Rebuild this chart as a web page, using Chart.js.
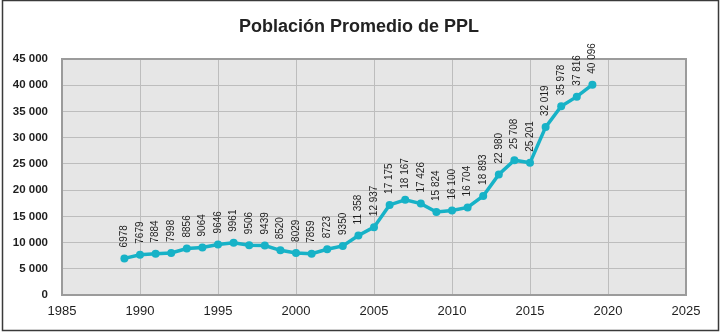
<!DOCTYPE html>
<html>
<head>
<meta charset="utf-8">
<script src="https://cdn.jsdelivr.net/npm/chart.js@4/dist/chart.umd.min.js"></script>
<style>
  html, body { margin: 0; padding: 0; background: #fff; }
  #wrap { position: relative; width: 724px; height: 334px; }
</style>
</head>
<body>
<div id="wrap"><canvas id="ppl" width="724" height="334"></canvas></div>
<script>
// años y población promedio
var years = [1989, 1990, 1991, 1992, 1993, 1994, 1995, 1996, 1997, 1998, 1999,
             2000, 2001, 2002, 2003, 2004, 2005, 2006, 2007, 2008, 2009,
             2010, 2011, 2012, 2013, 2014, 2015, 2016, 2017, 2018, 2019];
var poblacion = [6978, 7679, 7884, 7998, 8856, 9064, 9646, 9961, 9506, 9439, 8520,
                 8029, 7859, 8723, 9350, 11358, 12937, 17175, 18167, 17426, 15824,
                 16100, 16704, 18893, 22980, 25708, 25201, 32019, 35978, 37816, 40096];
var xTicks = [1985, 1990, 1995, 2000, 2005, 2010, 2015, 2020, 2025];
var yTicks = [0, 5000, 10000, 15000, 20000, 25000, 30000, 35000, 40000, 45000];
var titulo = "Población Promedio de PPL";

function miles(v, always) {
  var s = String(v);
  if (!always && v < 10000) return s;
  return s.replace(/\B(?=(\d{3})+(?!\d))/g, " ");
}

// fondo gris del área de trazado, marco exterior y título
var marco = {
  id: "marco",
  beforeDraw: function(chart) {
    var c = chart.ctx, a = chart.chartArea;
    c.save();
    c.fillStyle = "#fff";
    c.fillRect(0, 0, chart.width, chart.height);
    c.strokeStyle = "#3a3a3a";
    c.lineWidth = 1.5;
    c.strokeRect(2.5, 0.5, 716, 330);
    c.fillStyle = "#e6e6e6";
    c.fillRect(a.left, a.top, a.right - a.left, a.bottom - a.top);
    c.fillStyle = "#222";
    c.font = "bold 18px 'Liberation Sans', Arial, sans-serif";
    c.textAlign = "center";
    c.textBaseline = "middle";
    c.fillText(titulo, 359, 27);
    c.restore();
  },
  afterDatasetsDraw: function(chart) {
    var c = chart.ctx, a = chart.chartArea;
    c.save();
    c.strokeStyle = "#9b9b9b";
    c.lineWidth = 2;
    c.strokeRect(a.left, a.top, a.right - a.left, a.bottom - a.top);
    c.restore();
  }
};

// etiquetas de valor giradas sobre cada punto
var etiquetas = {
  id: "etiquetas",
  afterDatasetsDraw: function(chart) {
    var c = chart.ctx;
    var meta = chart.getDatasetMeta(0);
    c.save();
    c.fillStyle = "#1e1e1e";
    c.font = "10px 'Liberation Sans', Arial, sans-serif";
    c.textAlign = "left";
    c.textBaseline = "middle";
    meta.data.forEach(function(pt, i) {
      c.save();
      c.translate(pt.x, pt.y - 11);
      c.rotate(-Math.PI / 2);
      c.fillText(miles(poblacion[i], false), 0, 0);
      c.restore();
    });
    c.restore();
  }
};

new Chart(document.getElementById("ppl"), {
  type: "line",
  data: {
    datasets: [{
      data: years.map(function(y, i) { return { x: y, y: poblacion[i] }; }),
      borderColor: "#17b2c7",
      backgroundColor: "#17b2c7",
      borderWidth: 3.5,
      pointRadius: 4,
      pointBorderWidth: 0,
      tension: 0,
      fill: false
    }]
  },
  options: {
    responsive: false,
    animation: false,
    layout: { padding: { left: 4, right: 38, top: 59, bottom: 0 } },
    plugins: {
      legend: { display: false },
      tooltip: { enabled: false },
      title: { display: false }
    },
    scales: {
      x: {
        type: "linear",
        min: xTicks[0],
        max: xTicks[xTicks.length - 1],
        afterBuildTicks: function(s) { s.ticks = xTicks.map(function(v) { return { value: v }; }); },
        afterFit: function(s) { s.height = 39; },
        grid: { color: "#bdbdbd", lineWidth: 1, drawTicks: false },
        border: { display: false },
        ticks: {
          padding: 9,
          color: "#1e1e1e",
          font: { family: "'Liberation Sans', Arial, sans-serif", size: 13 },
          maxRotation: 0,
          callback: function(v) { return String(v); }
        }
      },
      y: {
        min: yTicks[0],
        max: yTicks[yTicks.length - 1],
        afterBuildTicks: function(s) { s.ticks = yTicks.map(function(v) { return { value: v }; }); },
        afterFit: function(s) { s.width = 58; },
        grid: { color: "#bdbdbd", lineWidth: 1, drawTicks: false },
        border: { display: false },
        ticks: {
          padding: 14,
          color: "#1e1e1e",
          font: { family: "'Liberation Sans', Arial, sans-serif", size: 11.5, weight: "bold" },
          callback: function(v) { return miles(v, true); }
        }
      }
    }
  },
  plugins: [marco, etiquetas]
});
</script>
</body>
</html>
